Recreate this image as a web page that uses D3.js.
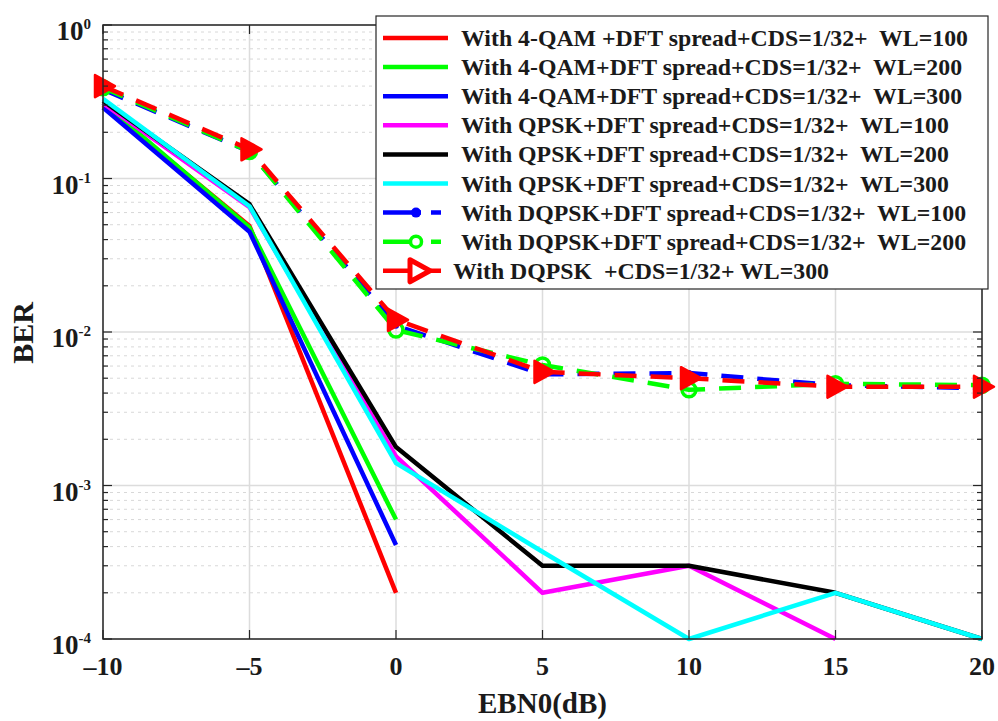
<!DOCTYPE html>
<html><head><meta charset="utf-8">
<script src="https://cdn.jsdelivr.net/npm/d3@7"></script>
<style>
body{margin:0;background:#fff;}
svg text{font-family:"Liberation Serif","Times New Roman",serif;font-weight:bold;}
</style></head>
<body><svg id="c" width="998" height="721"></svg>
<script>
const xValues = [-10, -5, 0, 5, 10, 15, 20];
const xTicks = [-10, -5, 0, 5, 10, 15, 20];
const yTickExponents = [0, -1, -2, -3, -4];
const seriesNames = [
  "With 4-QAM +DFT spread+CDS=1/32+  WL=100",
  "With 4-QAM+DFT spread+CDS=1/32+  WL=200",
  "With 4-QAM+DFT spread+CDS=1/32+  WL=300",
  "With QPSK+DFT spread+CDS=1/32+  WL=100",
  "With QPSK+DFT spread+CDS=1/32+  WL=200",
  "With QPSK+DFT spread+CDS=1/32+  WL=300",
  "With DQPSK+DFT spread+CDS=1/32+  WL=100",
  "With DQPSK+DFT spread+CDS=1/32+  WL=200",
  "With DQPSK  +CDS=1/32+ WL=300"
];
const qam100 = [0.30, 0.049, 2.0e-4, null, null, null, null];
const qam200 = [0.31, 0.048, 6.0e-4, null, null, null, null];
const qam300 = [0.29, 0.045, 4.1e-4, null, null, null, null];
const qpsk100 = [0.31, 0.065, 1.55e-3, 2.0e-4, 3.0e-4, 1.0e-4, null];
const qpsk200 = [0.32, 0.068, 1.78e-3, 3.0e-4, 3.0e-4, 2.0e-4, 1.0e-4];
const qpsk300 = [0.33, 0.066, 1.4e-3, 3.7e-4, 1.0e-4, 2.0e-4, 1.0e-4];
const dqpsk100 = [0.38, 0.150, 0.0110, 5.3e-3, 5.4e-3, 4.5e-3, 4.3e-3];
const dqpsk200 = [0.39, 0.150, 0.0103, 6.1e-3, 4.2e-3, 4.6e-3, 4.5e-3];
const dqpskCds300 = [0.40, 0.155, 0.0120, 5.5e-3, 5.0e-3, 4.4e-3, 4.4e-3];

const allSeries = [qam100, qam200, qam300, qpsk100, qpsk200, qpsk300, dqpsk100, dqpsk200, dqpskCds300];
const colors = ["#ff0000","#00ff00","#0000ff","#ff00ff","#000000","#00ffff","#0000ff","#00ff00","#ff0000"];
const dashed = [false,false,false,false,false,false,true,true,true];
const markers = [null,null,null,null,null,null,"dot","circle","triangle"];

const svg = d3.select("#c");
const L = 103, T = 25, W = 879, H = 614;
const x = d3.scaleLinear().domain([-10, 20]).range([L, L + W]);
const y = d3.scaleLog().domain([1e-4, 1]).range([T + H, T]);

// grid
const g = svg.append("g");
const minorVals = [];
for (let e = -4; e < 0; e++) for (let m = 2; m <= 9; m++) minorVals.push(m * Math.pow(10, e));
g.selectAll(".ymin").data(minorVals).enter().append("line")
  .attr("x1", L).attr("x2", L + W).attr("y1", d => y(d)).attr("y2", d => y(d))
  .attr("stroke", "#d8d8d8").attr("stroke-width", 1).attr("stroke-dasharray", "3,4");
g.selectAll(".ymaj").data(yTickExponents).enter().append("line")
  .attr("x1", L).attr("x2", L + W).attr("y1", d => y(Math.pow(10, d))).attr("y2", d => y(Math.pow(10, d)))
  .attr("stroke", "#dcdcdc").attr("stroke-width", 1.5);
g.selectAll(".xmaj").data(xTicks).enter().append("line")
  .attr("x1", d => x(d)).attr("x2", d => x(d)).attr("y1", T).attr("y2", T + H)
  .attr("stroke", "#dcdcdc").attr("stroke-width", 1.5);

// series
const lineGen = d3.line().defined(d => d[1] != null).x(d => x(d[0])).y(d => y(d[1]));
allSeries.forEach((s, i) => {
  const pts = xValues.map((xv, j) => [xv, s[j]]);
  svg.append("path").datum(pts).attr("d", lineGen)
    .attr("fill", "none").attr("stroke", colors[i]).attr("stroke-width", 4.5)
    .attr("stroke-linejoin", "round")
    .attr("stroke-dasharray", dashed[i] ? "22,14" : null);
  const mp = pts.filter(d => d[1] != null);
  if (markers[i] === "dot") {
    svg.selectAll(null).data(mp).enter().append("circle")
      .attr("cx", d => x(d[0])).attr("cy", d => y(d[1])).attr("r", 3).attr("fill", colors[i]);
  } else if (markers[i] === "circle") {
    svg.selectAll(null).data(mp).enter().append("circle")
      .attr("cx", d => x(d[0])).attr("cy", d => y(d[1])).attr("r", 7)
      .attr("fill", "none").attr("stroke", colors[i]).attr("stroke-width", 3.5);
  } else if (markers[i] === "triangle") {
    svg.selectAll(null).data(mp).enter().append("path")
      .attr("d", "M-8,-11 L12,0 L-8,11 Z")
      .attr("transform", d => `translate(${x(d[0])},${y(d[1])})`)
      .attr("fill", colors[i]).attr("stroke", colors[i]).attr("stroke-width", 2.5).attr("stroke-linejoin", "round");
  }
});

// axes frame and ticks
const ax = svg.append("g");
ax.append("rect").attr("x", L).attr("y", T).attr("width", W).attr("height", H)
  .attr("fill", "none").attr("stroke", "#262626").attr("stroke-width", 1.5);
[L, L + W].forEach((xx, side) => {
  const dir = side === 0 ? 1 : -1;
  ax.selectAll(null).data(minorVals).enter().append("line")
    .attr("x1", xx).attr("x2", xx + dir * 5).attr("y1", d => y(d)).attr("y2", d => y(d))
    .attr("stroke", "#262626").attr("stroke-width", 1.2);
  ax.selectAll(null).data(yTickExponents).enter().append("line")
    .attr("x1", xx).attr("x2", xx + dir * 9).attr("y1", d => y(Math.pow(10, d))).attr("y2", d => y(Math.pow(10, d)))
    .attr("stroke", "#262626").attr("stroke-width", 1.2);
});
[T, T + H].forEach((yy, side) => {
  const dir = side === 0 ? 1 : -1;
  ax.selectAll(null).data(xTicks).enter().append("line")
    .attr("x1", d => x(d)).attr("x2", d => x(d)).attr("y1", yy).attr("y2", yy + dir * 9)
    .attr("stroke", "#262626").attr("stroke-width", 1.2);
});

// tick labels
ax.selectAll(null).data(xTicks).enter().append("text")
  .attr("x", d => x(d)).attr("y", T + H + 36).attr("text-anchor", "middle")
  .attr("font-size", 26).attr("fill", "#1a1a1a")
  .text(d => d < 0 ? "\u2013" + Math.abs(d) : d);
yTickExponents.forEach(e => {
  const t = ax.append("text").attr("x", 91).attr("y", y(Math.pow(10, e)) + 15)
    .attr("text-anchor", "end").attr("fill", "#1a1a1a").attr("font-size", 27);
  t.append("tspan").text("10");
  t.append("tspan").attr("font-size", 15).attr("dy", -11).text(e === 0 ? "0" : "-" + Math.abs(e));
});
svg.append("text").attr("x", x(5)).attr("y", 713).attr("text-anchor", "middle")
  .attr("font-size", 29).attr("fill", "#1a1a1a").text("EBN0(dB)");
svg.append("text").attr("transform", `translate(33,${T + H / 2 + 1}) rotate(-90)`)
  .attr("text-anchor", "middle").attr("font-size", 30).attr("fill", "#1a1a1a").text("BER");

// legend
const lg = svg.append("g");
lg.append("rect").attr("x", 376).attr("y", 16).attr("width", 612).attr("height", 273)
  .attr("fill", "#fff").attr("stroke", "#262626").attr("stroke-width", 1.2);
seriesNames.forEach((name, i) => {
  const cy = 38 + i * 29.1;
  lg.append("line").attr("x1", 383).attr("x2", 448).attr("y1", cy).attr("y2", cy)
    .attr("stroke", colors[i]).attr("stroke-width", 4.5)
    .attr("stroke-dasharray", dashed[i] ? "38,10,10,10" : null);
  if (markers[i] === "dot") lg.append("circle").attr("cx", 416).attr("cy", cy).attr("r", 5).attr("fill", colors[i]);
  if (markers[i] === "circle") lg.append("circle").attr("cx", 416).attr("cy", cy).attr("r", 5.5)
    .attr("fill", "#fff").attr("stroke", colors[i]).attr("stroke-width", 3.5);
  if (markers[i] === "triangle") lg.append("path").attr("d", "M-8,-11 L12,0 L-8,11 Z")
    .attr("transform", `translate(418,${cy})`).attr("fill", "#fff").attr("stroke", colors[i]).attr("stroke-width", 5).attr("stroke-linejoin", "round");
  const tx = i === 8 ? 453 : 461;
  lg.append("text").attr("x", tx).attr("y", cy + 8).attr("font-size", 23.8).attr("fill", "#1a1a1a")
    .attr("xml:space", "preserve").style("white-space", "pre").text(name);
});
</script></body></html>
